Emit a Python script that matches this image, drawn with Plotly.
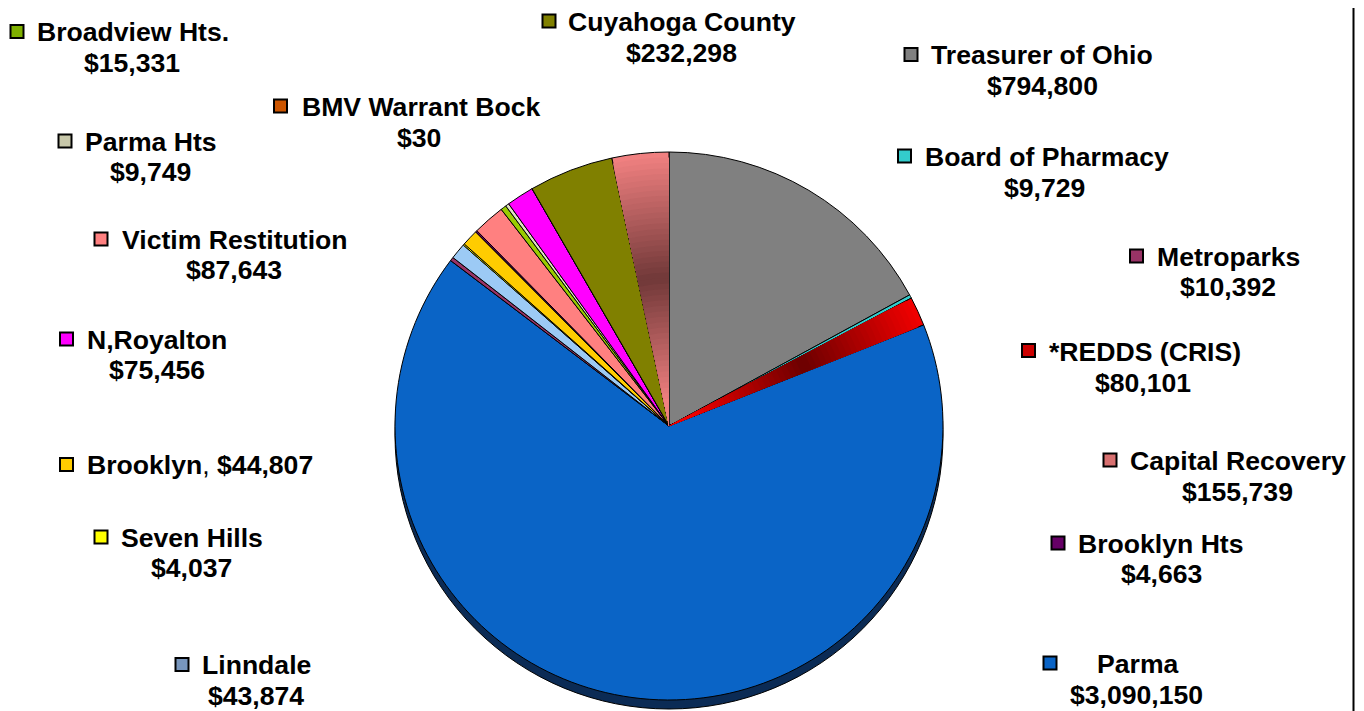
import plotly.graph_objects as go
import numpy as np

# ---------------- data ----------------
labels = ["Treasurer of Ohio", "Board of Pharmacy", "*REDDS (CRIS)", "Parma",
          "Metroparks", "Linndale", "Seven Hills", "Brooklyn", "Brooklyn Hts",
          "Victim Restitution", "Broadview Hts.", "Parma Hts", "N,Royalton",
          "BMV Warrant Bock", "Cuyahoga County", "Capital Recovery"]
values = [794800, 9729, 80101, 3090150,
          10392, 43874, 4037, 44807, 4663,
          87643, 15331, 9749, 75456,
          30, 232298, 155739]

# ---------------- styles ----------------
slice_colors = ["#808080", "#33cccc", "#f00000", "#0a64c6",
                "#993366", "#9ccaf5", "#ffff00", "#ffcc00", "#660066",
                "#ff8080", "#99cc00", "#e0e0c4", "#ff00ff",
                "#cc5500", "#808000", "#f08080"]
key_colors = list(slice_colors)
key_colors[labels.index("Linndale")] = "#7896bd"
key_colors[labels.index("Capital Recovery")] = "#d87070"
key_colors[labels.index("*REDDS (CRIS)")] = "#cc0000"
key_colors[labels.index("Broadview Hts.")] = "#7fb000"
key_colors[labels.index("Parma Hts")] = "#c8c8aa"

# slices drawn with a light -> dark -> light radial shading
gradients = {"*REDDS (CRIS)": ((240, 0, 0), (108, 0, 0)),
             "Capital Recovery": ((240, 128, 128), (112, 56, 56))}

W, H = 1364, 711
OFF = 8  # page body margin: figure is drawn 8px right/down in the window
CX, CY, R = 669, 426, 274
DEPTH = 9
FSIZE = 26.6

# label placement in window pixels: key square centre, name left/centre-y, value centre
label_pos = {
    "Broadview Hts.":     (17, 31.5, 37, 32.5, 131.5, 63),
    "Parma Hts":          (65, 141, 85, 142, 150, 172),
    "BMV Warrant Bock":   (280.5, 106, 301.5, 107, 419, 138),
    "Cuyahoga County":    (549, 21, 568, 22, 681, 53),
    "Treasurer of Ohio":  (911, 54.5, 931, 55, 1042.5, 86),
    "Board of Pharmacy":  (904.5, 156, 925, 157, 1044.5, 187.5),
    "Victim Restitution": (101, 239, 122, 239.5, 233.5, 270),
    "Metroparks":         (1136.5, 256, 1157, 257, 1228, 287),
    "N,Royalton":         (66.5, 339, 87, 339.5, 156.7, 370),
    "*REDDS (CRIS)":      (1028.5, 350.5, 1049, 351.5, 1143, 383),
    "Brooklyn":           (66.5, 464.5, 87, 464.5, None, None),
    "Capital Recovery":   (1110, 460, 1130, 460.5, 1237, 492),
    "Seven Hills":        (101, 537, 121, 537.5, 191, 568),
    "Brooklyn Hts":       (1058, 543, 1078, 543.5, 1161, 574),
    "Linndale":           (182, 664.5, 202, 664.5, 256, 696),
    "Parma":              (1050, 663, 1097, 664, 1136, 695),
}

FONT = "Liberation Sans, Arial, sans-serif"


def px_x(x):
    return (x - OFF) / W


def px_y(y):
    return 1 - (y - OFF) / H


def dom(cx, cy, r):
    return dict(x=[px_x(cx - r), px_x(cx + r)], y=[px_y(cy + r), px_y(cy - r)])


def mix(a, b, t):
    return "rgb(%d,%d,%d)" % tuple(round(a[i] * (1 - t) + b[i] * t) for i in range(3))


def shade(s):
    return float(np.clip(1 - abs(s - 0.55) / 0.45, 0, 1))


fig = go.Figure()

# 3D rim underneath
fig.add_trace(go.Pie(values=[1], labels=["rim"], sort=False, textinfo="none",
                     marker=dict(colors=["#0b2b55"], line=dict(color="#000000", width=1)),
                     domain=dom(CX, CY + DEPTH, R), hoverinfo="skip", showlegend=False))

# main pie
fig.add_trace(go.Pie(values=values, labels=labels, sort=False, direction="clockwise",
                     rotation=0, textinfo="none",
                     marker=dict(colors=slice_colors, line=dict(color="#000000", width=1)),
                     domain=dom(CX, CY, R), showlegend=False))

# shading layers for gradient slices
for s in np.arange(0.98, 0.02, -0.02):
    cols = []
    for lab in labels:
        if lab in gradients:
            light, dark = gradients[lab]
            cols.append(mix(light, dark, shade(s)))
        else:
            cols.append("rgba(0,0,0,0)")
    fig.add_trace(go.Pie(values=values, labels=labels, sort=False, direction="clockwise",
                         rotation=0, textinfo="none",
                         marker=dict(colors=cols, line=dict(width=0)),
                         domain=dom(CX, CY, R * s), hoverinfo="skip", showlegend=False))

annotations = []
shapes = []
for lab, val in zip(labels, values):
    mx, my, nx, ny, vx, vy = label_pos[lab]
    kc = key_colors[labels.index(lab)]
    shapes.append(dict(type="rect", xref="paper", yref="paper",
                       x0=px_x(mx - 6.5), x1=px_x(mx + 6.5),
                       y0=px_y(my + 6.5), y1=px_y(my - 6.5),
                       fillcolor=kc, line=dict(color="#000000", width=2)))
    vtxt = "${:,}".format(val)
    if vx is None:
        annotations.append(dict(x=px_x(nx - 2), y=px_y(ny), xref="paper", yref="paper",
                                xanchor="left", yanchor="middle", showarrow=False,
                                text="<b>%s</b>, <b>%s</b>" % (lab, vtxt),
                                font=dict(family=FONT, size=FSIZE, color="#000000")))
        continue
    annotations.append(dict(x=px_x(nx - 2), y=px_y(ny), xref="paper", yref="paper",
                            xanchor="left", yanchor="middle", showarrow=False,
                            text=lab,
                            font=dict(family=FONT, size=FSIZE, color="#000000", weight="bold")))
    annotations.append(dict(x=px_x(vx), y=px_y(vy), xref="paper", yref="paper",
                            xanchor="center", yanchor="middle", showarrow=False,
                            text=vtxt,
                            font=dict(family=FONT, size=FSIZE, color="#000000", weight="bold")))

shapes.append(dict(type="line", xref="paper", yref="paper",
                   x0=px_x(1353.5), x1=px_x(1353.5), y0=0, y1=1,
                   line=dict(color="#000000", width=2)))

fig.update_layout(width=W, height=H, margin=dict(l=0, r=0, t=0, b=0),
                  paper_bgcolor="#ffffff", plot_bgcolor="#ffffff",
                  showlegend=False, annotations=annotations, shapes=shapes)

fig.write_html("out.html")
